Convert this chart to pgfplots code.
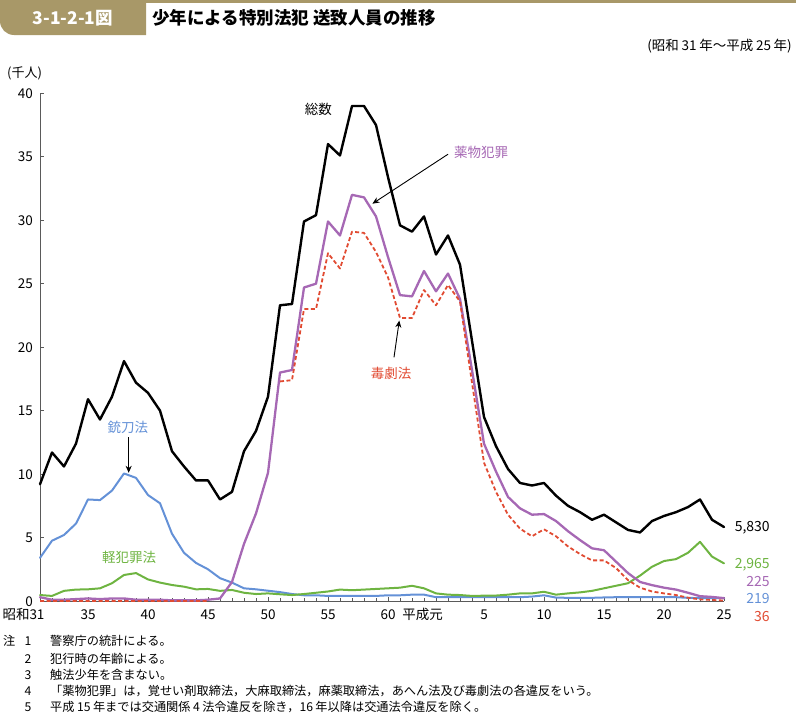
\documentclass[border=0pt]{standalone}
\usepackage{fontspec}
\setmainfont{Noto Sans CJK JP}
\usepackage{pgfplots}
\pgfplotsset{compat=1.18}
\usepackage{pgfplotstable}
\usetikzlibrary{arrows.meta}

\definecolor{cDrug}{RGB}{166,104,180}
\definecolor{cPois}{RGB}{225,75,50}
\definecolor{cGun}{RGB}{100,145,215}
\definecolor{cMinor}{RGB}{110,180,65}
\definecolor{cBand}{RGB}{168,152,104}
\definecolor{cAxis}{RGB}{90,90,90}

\newcommand{\tk}{\fontsize{13.5bp}{16bp}\selectfont}
\newcommand{\lab}{\fontsize{13.5bp}{16bp}\selectfont}
\newcommand{\nt}{\fontsize{12.2bp}{14bp}\selectfont}
\newcommand{\js}{\hspace{0.2em}}

\pgfplotstableread{
i tot drug pois gun minor
0 9.2 0.3 0 3.4 0.47
1 11.7 0.1 0 4.75 0.4
2 10.6 0.1 0 5.2 0.8
3 12.4 0.15 0 6.1 0.9
4 15.9 0.2 0 8.0 0.92
5 14.3 0.15 0 7.95 1.0
6 16.1 0.2 0 8.7 1.4
7 18.9 0.2 0 10.05 2.05
8 17.2 0.1 0 9.7 2.2
9 16.4 0.1 0 8.35 1.7
10 15.0 0.1 0 7.7 1.45
11 11.8 0.05 0 5.3 1.26
12 10.6 0.05 0 3.8 1.13
13 9.5 0.05 0 3.0 0.92
14 9.5 0.1 0 2.5 0.95
15 8.0 0.2 nan 1.8 0.8
16 8.6 1.5 nan 1.45 0.87
17 11.8 4.5 nan 1.0 0.65
18 13.4 6.9 nan 0.92 0.55
19 16.1 10.1 nan 0.81 0.6
20 23.3 18.0 17.3 0.7 0.53
21 23.4 18.2 17.4 0.55 0.47
22 29.9 24.7 23.0 0.45 0.55
23 30.4 25.0 23.0 0.45 0.65
24 36.0 29.9 27.4 0.4 0.75
25 35.1 28.8 26.2 0.4 0.9
26 39.0 32.0 29.1 0.4 0.85
27 39.0 31.8 29.0 0.4 0.9
28 37.5 30.3 27.5 0.4 0.95
29 33.4 27.1 25.5 0.45 1.0
30 29.6 24.1 22.3 0.45 1.05
31 29.1 24.0 22.3 0.5 1.2
32 30.3 26.0 24.5 0.5 1.0
33 27.3 24.4 23.3 0.3 0.6
34 28.8 25.8 24.9 0.3 0.5
35 26.5 23.8 23.6 0.3 0.47
36 20.5 18.2 17.2 0.3 0.4
37 14.5 12.4 10.9 0.3 0.42
38 12.2 10.2 8.6 0.3 0.43
39 10.4 8.2 6.8 0.3 0.5
40 9.3 7.3 5.7 0.3 0.6
41 9.1 6.8 5.1 0.35 0.6
42 9.3 6.85 5.65 0.45 0.73
43 8.3 6.3 5.1 0.27 0.5
44 7.5 5.5 4.3 0.25 0.6
45 7.0 4.8 3.7 0.25 0.68
46 6.4 4.15 3.2 0.25 0.8
47 6.8 4.0 3.2 0.28 1.0
48 6.2 3.1 2.6 0.3 1.2
49 5.6 2.2 1.65 0.3 1.4
50 5.4 1.5 1.05 0.3 2.0
51 6.3 1.25 0.75 0.3 2.7
52 6.7 1.05 0.6 0.3 3.15
53 7.0 0.9 0.47 0.3 3.3
54 7.4 0.65 0.26 0.25 3.8
55 8.0 0.38 0.13 0.22 4.66
56 6.4 0.32 0.08 0.22 3.5
57 5.83 0.225 0.036 0.219 2.965
}\data

\begin{document}
\begin{tikzpicture}
\path[use as bounding box] (0,0) rectangle (796bp,-715bp);
% banner
\fill[cBand] (0,0) rectangle (796bp,-3bp);
\fill[cBand] (146bp,0) -- (146bp,-35bp) -- (14bp,-35bp) arc[start angle=270, end angle=180, radius=14bp] -- (0,0) -- cycle;
\node[anchor=center, text=white, font=\fontsize{17.5bp}{20bp}\selectfont\bfseries] at (73bp,-18bp) {3-1-2-1図};
\node[anchor=west, inner sep=0pt, font=\fontsize{17.5bp}{20bp}\selectfont\bfseries] at (152bp,-18bp) {少年による特別法犯 送致人員の推移};
\node[anchor=east, inner sep=0pt, font=\fontsize{13.5bp}{15bp}\selectfont] at (792bp,-46bp) {(昭和\js{}31\js{}年～平成\js{}25\js{}年)};
\node[anchor=west, inner sep=0pt, font=\fontsize{13bp}{15bp}\selectfont] at (7bp,-73bp) {(千人)};

\begin{axis}[
  at={(40bp,-601bp)}, anchor=south west,
  scale only axis, width=684bp, height=507.7bp,
  xmin=0, xmax=57, ymin=0, ymax=40,
  axis x line*=bottom, axis y line*=left,
  axis line style={cAxis, line width=0.8bp},
  tick style={cAxis, line width=0.6bp},
  tick align=inside,
  major tick length=4bp, minor tick length=3bp,
  xtick={0,4,9,14,19,24,29,33,37,42,47,52,57},
  xticklabels={{\llap{昭和}31\hspace*{6bp}},35,40,45,50,55,60,{\llap{平成}元},5,10,15,20,25},
  minor xtick={0,...,57},
  ytick={0,5,...,40},
  xticklabel style={anchor=base, inner sep=0pt, yshift=-18bp, font=\tk},
  yticklabel style={anchor=base east, inner sep=0pt, xshift=-7bp, yshift=-5bp, font=\tk},
  /pgf/number format/assume math mode=true,
  clip=false,
  unbounded coords=jump,
  every axis plot/.append style={line join=round, line cap=round},
]
\addplot[cGun, line width=2bp] table[x=i,y=gun]{\data};
\addplot[cMinor, line width=2bp] table[x=i,y=minor]{\data};
\addplot[cDrug, line width=2.3bp] table[x=i,y=drug]{\data};
\addplot[cPois, line width=1.8bp, line cap=butt, dash pattern=on 4bp off 2.5bp] table[x=i,y=pois]{\data};
\addplot[black, line width=2.4bp] table[x=i,y=tot]{\data};

\node[font=\lab] at (axis cs:23.2,38.7) {総数};
\node[font=\lab, text=cDrug] at (axis cs:36.75,35.35) {薬物犯罪};
\draw[-{Stealth[length=7bp,width=6bp]}, line width=0.9bp] (axis cs:34.0,35.2) -- (axis cs:27.7,31.3);
\node[font=\lab, text=cPois] at (axis cs:29.25,17.9) {毒劇法};
\draw[-{Stealth[length=7bp,width=6bp]}, line width=0.9bp] (axis cs:29.5,19.2) -- (axis cs:29.94,22.1);
\node[font=\lab, text=cGun] at (axis cs:7.33,13.66) {銃刀法};
\draw[-{Stealth[length=7bp,width=6bp]}, line width=0.9bp] (axis cs:7.39,12.9) -- (axis cs:7.39,10.1);
\node[font=\lab, text=cMinor] at (axis cs:7.42,3.43) {軽犯罪法};

\node[anchor=east, inner sep=0pt, font=\fontsize{14bp}{16bp}\selectfont] at (axis cs:60.83,5.75) {5,830};
\node[anchor=east, inner sep=0pt, font=\fontsize{14bp}{16bp}\selectfont, text=cMinor] at (axis cs:60.83,2.83) {2,965};
\node[anchor=east, inner sep=0pt, font=\fontsize{14bp}{16bp}\selectfont, text=cDrug] at (axis cs:60.83,1.52) {225};
\node[anchor=east, inner sep=0pt, font=\fontsize{14bp}{16bp}\selectfont, text=cGun] at (axis cs:60.83,0.16) {219};
\node[anchor=east, inner sep=0pt, font=\fontsize{14bp}{16bp}\selectfont, text=cPois] at (axis cs:60.83,-1.24) {36};
\end{axis}

% notes
\node[anchor=base west, inner sep=0pt, font=\nt] at (3bp,-645.6bp) {注};
\foreach \n/\y/\t in {1/645.6/警察庁の統計による。, 2/663.6/犯行時の年齢による。, 3/679.6/触法少年を含まない。, 4/695.6/「薬物犯罪」は，覚せい剤取締法，大麻取締法，麻薬取締法，あへん法及び毒劇法の各違反をいう。, 5/711.6/平成\js{}15\js{}年までは交通関係\js{}4\js{}法令違反を除き，16\js{}年以降は交通法令違反を除く。}{
  \node[anchor=base, inner sep=0pt, font=\nt] at (28bp,-\y bp) {\n};
  \node[anchor=base west, inner sep=0pt, font=\nt] at (50bp,-\y bp) {\t};
}
\end{tikzpicture}
\end{document}
